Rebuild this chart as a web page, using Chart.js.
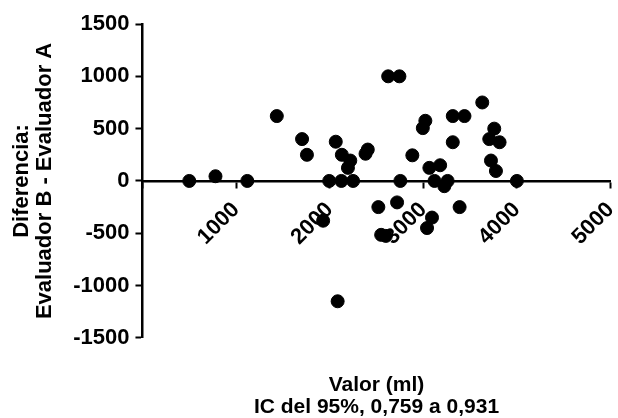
<!DOCTYPE html>
<html>
<head>
<meta charset="utf-8">
<script src="https://cdn.jsdelivr.net/npm/chart.js@4"></script>
<style>
  body { margin: 0; background: #fff; }
  #wrap { width: 618px; height: 418px; }
</style>
</head>
<body>
<div id="wrap"><canvas id="blandChart"></canvas></div>
<script>
/* Data Value */
const meanValues = [
  500, 780, 1120, 1435, 1705, 1757, 1995, 2065, 2130, 2220, 2195, 2125,
  2250, 2383, 2407, 1930, 2085, 2520, 2550, 2600, 2625, 2745, 2720, 2755,
  2883, 2995, 3022, 3040, 3093, 3065, 3180, 3120, 3225, 3260, 3315, 3440,
  3315, 3388, 3630, 3758, 3705, 3815, 3723, 3776, 4000,
];
const diffValues = [
  0, 45, 0, 620, 400, 250, 0, 375, 250, 195, 125, 0,
  0, 260, 300, -380, -1150, -250, -515, -525, 1000, 1000, -205, 0,
  245, 505, 575, -450, -350, 125, 150, 0, -50, 0, 620, 620,
  370, -250, 750, 500, 400, 370, 195, 95, 0,
];
const xTicks = [0, 1000, 2000, 3000, 4000, 5000];
const yTicks = [-1500, -1000, -500, 0, 500, 1000, 1500];
const yTitle = ["Diferencia:", "Evaluador B - Evaluador A"];
const xTitle = ["Valor (ml)", "IC del 95%, 0,759 a 0,931"];

const points = meanValues.map((v, i) => ({ x: v, y: diffValues[i] }));

Chart.defaults.font.family = "'Liberation Sans', Arial, sans-serif";
Chart.defaults.font.weight = "bold";
Chart.defaults.color = "#000";

/* Chart */
const ctx = document.querySelector("#blandChart");
const blandChart = new Chart(ctx, {
  type: "scatter",
  data: {
    datasets: [
      {
        data: points,
        backgroundColor: "#000",
        borderColor: "#000",
        pointRadius: 6.5,
        pointHoverRadius: 6.5,
      },
    ],
  },
  options: {
    responsive: true,
    maintainAspectRatio: false,
    animation: false,
    layout: { padding: { top: 24, right: 7, left: 10, bottom: 0 } },
    scales: {
      x: {
        type: "linear",
        position: { y: 0 },
        min: xTicks[0],
        max: xTicks[xTicks.length - 1],
        afterBuildTicks: (scale) => {
          scale.ticks = xTicks.map((v) => ({ value: v }));
        },
        afterFit: (scale) => {
          // rotated labels should not push the plot area in
          scale.paddingLeft = 0;
          scale.paddingRight = 0;
        },
        border: { display: true, color: "#000", width: 2.5 },
        grid: {
          drawOnChartArea: false,
          drawTicks: true,
          tickLength: 6,
          tickColor: "#000",
          tickWidth: 2,
        },
        ticks: {
          autoSkip: false,
          minRotation: 45,
          maxRotation: 45,
          padding: 10,
          font: { size: 22, weight: "bold" },
          callback: (v) => (v === 0 ? "" : String(v)),
        },
      },
      x2: {
        type: "linear",
        axis: "x",
        position: "bottom",
        border: { display: false },
        grid: { display: false, drawTicks: false, tickLength: 0 },
        ticks: { display: false },
        title: {
          display: true,
          text: xTitle,
          font: { size: 21, weight: "bold", lineHeight: 1.05 },
          padding: { top: 36, bottom: 0 },
        },
      },
      y: {
        type: "linear",
        min: yTicks[0],
        max: yTicks[yTicks.length - 1],
        afterBuildTicks: (scale) => {
          scale.ticks = yTicks.map((v) => ({ value: v }));
        },
        border: { display: true, color: "#000", width: 2.5 },
        grid: {
          drawOnChartArea: false,
          drawTicks: true,
          tickLength: 7,
          tickColor: "#000",
          tickWidth: 2,
        },
        ticks: {
          padding: 6,
          font: { size: 22, weight: "bold" },
          callback: (v) => String(v),
        },
        title: {
          display: true,
          text: yTitle,
          font: { size: 22, weight: "bold", lineHeight: 1.05 },
          padding: { top: 0, bottom: 11 },
        },
      },
    },
    plugins: {
      legend: { display: false },
      tooltip: { enabled: false },
    },
  },
});
</script>
</body>
</html>
